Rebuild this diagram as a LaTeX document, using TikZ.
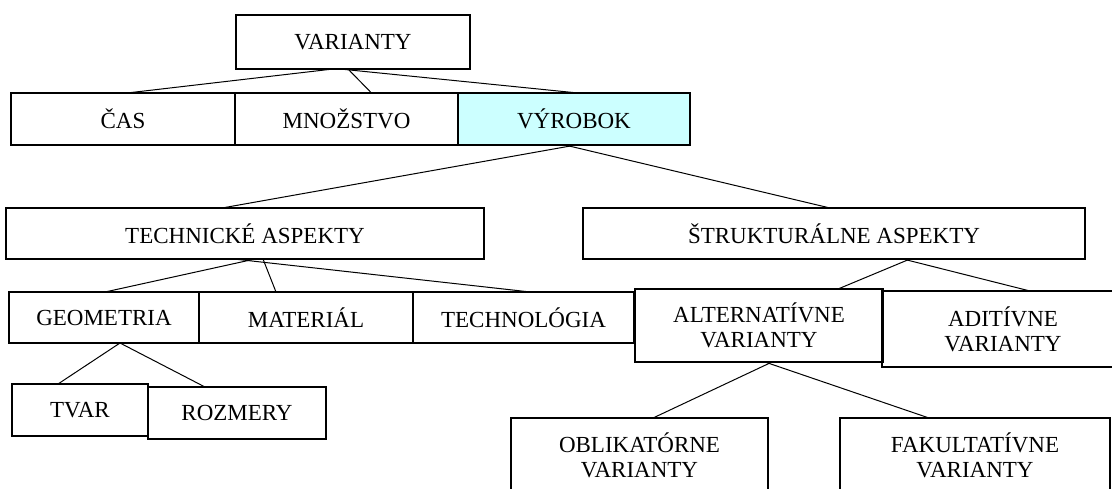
\documentclass[tikz,border=0pt]{standalone}
\usepackage{fontspec}
\setmainfont{Liberation Serif}
\usepackage{xcolor}
\usetikzlibrary{positioning}
\definecolor{vyrcyan}{HTML}{CCFFFF}
\tikzset{
box/.style={draw,line width=1.2pt,inner sep=0pt,outer sep=0pt,align=center,font=\fontsize{23}{25}\selectfont},
link/.style={line width=1pt}
}

\begin{document}
\begin{tikzpicture}[x=1pt,y=-1pt]
\useasboundingbox (0,0) rectangle (1112,488);
\fill[white] (0,0) rectangle (1112,488);
\clip (0,0) rectangle (1112,488);
\node[box,minimum width=234pt,minimum height=54pt] (var) at (353,42) {VARIANTY};
\node[box,minimum width=224pt,minimum height=52pt] (cas) at (123,119) {ČAS};
\node[box,minimum width=223pt,minimum height=52pt,right=0pt of cas] (mno) {MNOŽSTVO};
\node[box,fill=vyrcyan,minimum width=232pt,minimum height=52pt,right=0pt of mno] (vyr) {VÝROBOK};
\node[box,minimum width=478pt,minimum height=51pt] (tech) at (245,233.5) {TECHNICKÉ ASPEKTY};
\node[box,minimum width=502pt,minimum height=51pt] (str) at (834,233.5) {ŠTRUKTURÁLNE ASPEKTY};
\node[box,minimum width=190pt,minimum height=51pt] (geo) at (104,317.5) {GEOMETRIA};
\node[box,minimum width=214pt,minimum height=51pt,right=0pt of geo] (mat) {MATERIÁL};
\node[box,minimum width=221pt,minimum height=51pt,right=0pt of mat] (tgy) {TECHNOLÓGIA};
\node[box,minimum width=248pt,minimum height=73pt] (alt) at (759,325.5) {ALTERNATÍVNE\\VARIANTY};
\node[box,minimum width=242pt,minimum height=76pt] (adi) at (1003,329) {ADITÍVNE\\VARIANTY};
\node[box,minimum width=136pt,minimum height=52pt] (tvar) at (80,410) {TVAR};
\node[box,minimum width=178pt,minimum height=52pt] (roz) at (237,413) {ROZMERY};
\node[box,minimum width=257pt,minimum height=74pt] (obl) at (639.5,455) {OBLIKATÓRNE\\VARIANTY};
\node[box,minimum width=270pt,minimum height=74pt] (fak) at (975,455) {FAKULTATÍVNE\\VARIANTY};
\draw[link] ([xshift=-20pt]var.south) -- ([xshift=4pt]cas.north);
\draw[link] ([xshift=-5pt]var.south) -- ([xshift=25pt]mno.north);
\draw[link] ([xshift=-13pt]var.south) -- ([xshift=4pt]vyr.north);
\draw[link] ([xshift=2pt]vyr.south) -- ([xshift=-23pt]tech.north);
\draw[link] ([xshift=-9pt]vyr.south) -- ([xshift=-4pt]str.north);
\draw[link] ([xshift=10pt]tech.south) -- ([xshift=1pt]geo.north);
\draw[link] ([xshift=18pt]tech.south) -- ([xshift=-30pt]mat.north);
\draw[link] ([xshift=-11pt]tech.south) -- ([xshift=7pt]tgy.north);
\draw[link] ([xshift=76pt]str.south) -- ([xshift=79pt]alt.north);
\draw[link] ([xshift=69pt]str.south) -- ([xshift=27pt]adi.north);
\draw[link] ([xshift=16pt]geo.south) -- ([xshift=-22pt]tvar.north);
\draw[link] ([xshift=16pt]geo.south) -- ([xshift=-32pt]roz.north);
\draw[link] ([xshift=13pt]alt.south) -- ([xshift=13.5pt]obl.north);
\draw[link] ([xshift=6pt]alt.south) -- ([xshift=-46pt]fak.north);
\end{tikzpicture}
\end{document}
